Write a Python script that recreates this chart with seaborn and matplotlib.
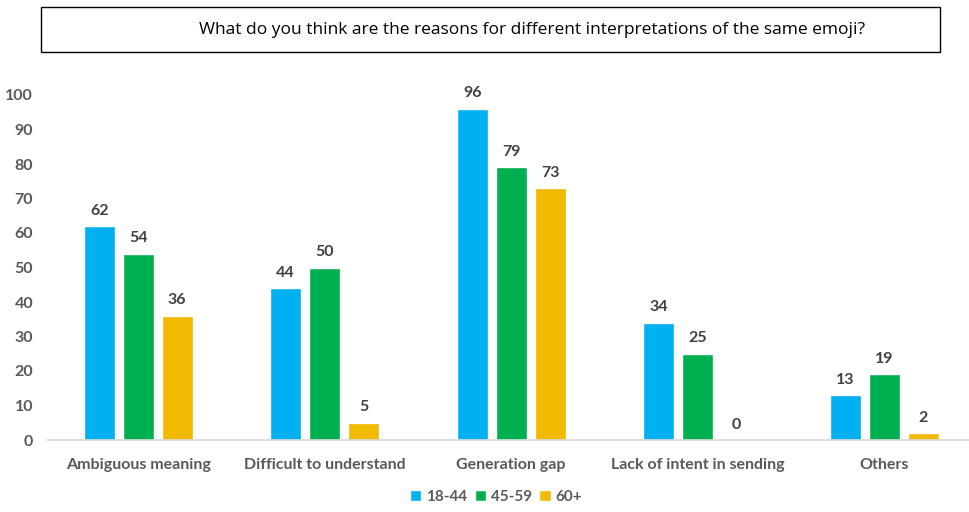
import matplotlib
matplotlib.use("Agg")
import matplotlib.pyplot as plt
import seaborn as sns
import pandas as pd
from matplotlib.patches import Rectangle

categories = ["Ambiguous meaning", "Difficult to understand", "Generation gap",
              "Lack of intent in sending", "Others"]
groups = ["18-44", "45-59", "60+"]
v_18_44 = [62, 44, 96, 34, 13]
v_45_59 = [54, 50, 79, 25, 19]
v_60p = [36, 5, 73, 0, 2]
yticks = [0, 10, 20, 30, 40, 50, 60, 70, 80, 90, 100]
title = "What do you think are the reasons for different interpretations of the same emoji?"

colors = ["#00B0F0", "#00B050", "#F1B900"]

df = pd.DataFrame({
    "category": categories * 3,
    "group": [groups[0]] * 5 + [groups[1]] * 5 + [groups[2]] * 5,
    "value": v_18_44 + v_45_59 + v_60p,
})

sns.set_style("white")
plt.rcParams["font.family"] = ["Lato", "DejaVu Sans"]

fig = plt.figure(figsize=(9.69, 5.12), dpi=100)
ax = fig.add_axes([47 / 969, 72 / 512, 1 - 47 / 969, (440 - 67.4) / 512])

sns.barplot(data=df, x="category", y="value", hue="group", palette=colors,
            width=0.627, gap=0.2, saturation=1, ax=ax, legend=True)

ax.set_xlim(-0.489, 4.455)
ax.set_ylim(0, 108)
ax.set_yticks(yticks)
ax.set_yticklabels([str(t) for t in yticks])
ax.set_xlabel("")
ax.set_ylabel("")
for s in ["top", "right", "left"]:
    ax.spines[s].set_visible(False)
ax.spines["bottom"].set_color("#D9D9D9")
ax.spines["bottom"].set_linewidth(1.2)
ax.tick_params(axis="both", length=0, colors="#595959")
ax.tick_params(axis="y", pad=10)
ax.tick_params(axis="x", pad=13)
for lab in ax.get_xticklabels() + ax.get_yticklabels():
    lab.set_fontweight("bold")
    lab.set_fontsize(11.5)
    lab.set_color("#595959")

for cont in ax.containers:
    ax.bar_label(cont, fmt="%d", padding=6, fontsize=11.5, fontweight="bold",
                 color="#404040")

leg = ax.legend(loc="center", bbox_to_anchor=(0.487, -0.153), ncol=3,
                frameon=False, handlelength=0.75, handleheight=0.75,
                handletextpad=0.3, columnspacing=0.5, fontsize=11)
for t in leg.get_texts():
    t.set_fontweight("bold")
    t.set_color("#595959")

fig.patches.append(Rectangle((41 / 969, 1 - 52 / 512), (940 - 41) / 969, 45 / 512,
                             transform=fig.transFigure, fill=False,
                             edgecolor="black", linewidth=1.0))
fig.text(532 / 969, 1 - 29.5 / 512, title, ha="center", va="center",
         fontsize=12.5, color="black", family=["Open Sans", "DejaVu Sans"])

fig.savefig("out.png", dpi=100)
